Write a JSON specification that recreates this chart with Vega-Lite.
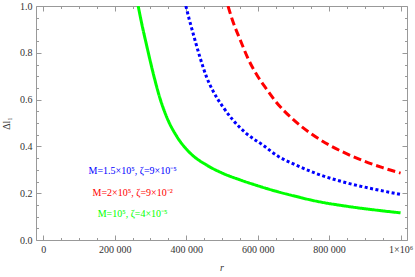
{
  "$schema": "https://vega.github.io/schema/vega-lite/v6.json",
  "autosize": {"type": "none"},
  "width": 371,
  "height": 234,
  "padding": {"left": 36, "top": 6, "right": 8, "bottom": 37},
  "background": "white",
  "config": {
    "view": {"stroke": "#999999", "strokeWidth": 1},
    "axis": {
      "domainColor": "#999999",
      "tickColor": "#999999",
      "labelFont": "Liberation Serif, serif",
      "labelFontSize": 10,
      "labelColor": "#333333",
      "titleFont": "Liberation Serif, serif",
      "titleFontSize": 10,
      "titleFontWeight": "normal",
      "titleColor": "#333333",
      "grid": false
    }
  },
  "datasets": {
    "curves": [
      {"s": "g", "r": 265600, "d": 1.0},
      {"s": "g", "r": 275500, "d": 0.925},
      {"s": "g", "r": 289500, "d": 0.83},
      {"s": "g", "r": 308000, "d": 0.71},
      {"s": "g", "r": 326700, "d": 0.605},
      {"s": "g", "r": 345500, "d": 0.525},
      {"s": "g", "r": 373500, "d": 0.443},
      {"s": "g", "r": 410700, "d": 0.372},
      {"s": "g", "r": 457400, "d": 0.32},
      {"s": "g", "r": 503900, "d": 0.284},
      {"s": "g", "r": 550700, "d": 0.257},
      {"s": "g", "r": 600000, "d": 0.232},
      {"s": "g", "r": 650000, "d": 0.209},
      {"s": "g", "r": 700000, "d": 0.189},
      {"s": "g", "r": 764000, "d": 0.166},
      {"s": "g", "r": 850000, "d": 0.144},
      {"s": "g", "r": 925000, "d": 0.129},
      {"s": "g", "r": 1000000, "d": 0.116},
      {"s": "b", "r": 399000, "d": 1.0},
      {"s": "b", "r": 409000, "d": 0.94},
      {"s": "b", "r": 419300, "d": 0.883},
      {"s": "b", "r": 438100, "d": 0.783},
      {"s": "b", "r": 456800, "d": 0.697},
      {"s": "b", "r": 475300, "d": 0.636},
      {"s": "b", "r": 503200, "d": 0.568},
      {"s": "b", "r": 531200, "d": 0.512},
      {"s": "b", "r": 568600, "d": 0.455},
      {"s": "b", "r": 615000, "d": 0.405},
      {"s": "b", "r": 657000, "d": 0.358},
      {"s": "b", "r": 700000, "d": 0.325},
      {"s": "b", "r": 764300, "d": 0.284},
      {"s": "b", "r": 857400, "d": 0.241},
      {"s": "b", "r": 930000, "d": 0.216},
      {"s": "b", "r": 1000000, "d": 0.195},
      {"s": "r", "r": 517000, "d": 1.0},
      {"s": "r", "r": 530000, "d": 0.937},
      {"s": "r", "r": 549900, "d": 0.86},
      {"s": "r", "r": 575000, "d": 0.769},
      {"s": "r", "r": 600000, "d": 0.7},
      {"s": "r", "r": 625000, "d": 0.645},
      {"s": "r", "r": 650000, "d": 0.593},
      {"s": "r", "r": 700000, "d": 0.514},
      {"s": "r", "r": 750000, "d": 0.454},
      {"s": "r", "r": 800000, "d": 0.406},
      {"s": "r", "r": 850000, "d": 0.368},
      {"s": "r", "r": 900000, "d": 0.336},
      {"s": "r", "r": 950000, "d": 0.309},
      {"s": "r", "r": 1000000, "d": 0.286}
    ],
    "labels": [
      {"s": "b", "r": 250000, "d": 0.295, "t": "M=1.5×10⁵, ζ=9×10⁻⁵"},
      {"s": "r", "r": 250000, "d": 0.201, "t": "M=2×10⁵, ζ=9×10⁻²"},
      {"s": "g", "r": 250000, "d": 0.112, "t": "M=10⁵, ζ=4×10⁻⁵"}
    ]
  },
  "resolve": {"axis": {"x": "independent", "y": "independent"}},
  "layer": [
    {
      "data": {"name": "curves"},
      "mark": {"type": "line", "strokeWidth": 3, "clip": true, "interpolate": "monotone"},
      "encoding": {
        "x": {"field": "r", "type": "quantitative",
          "scale": {"domain": [-20400, 1018000], "nice": false, "zero": false},
          "axis": {"orient": "bottom", "values": [0, 200000, 400000, 600000, 800000, 1000000],
            "tickSize": -5, "labelPadding": 9, "domain": false, "title": "r", "titleFontStyle": "italic", "titlePadding": 8,
            "labelExpr": "datum.value == 1000000 ? '1×10⁶' : replace(format(datum.value, ','), ',', ' ')"}},
        "y": {"field": "d", "type": "quantitative",
          "scale": {"domain": [0, 1], "nice": false},
          "axis": {"orient": "left", "values": [0, 0.2, 0.4, 0.6, 0.8, 1.0], "format": ".1f",
            "tickSize": -5, "labelPadding": 9, "domain": false, "title": "Δl₁", "titlePadding": 8}},
        "color": {"field": "s", "type": "nominal", "legend": null,
          "scale": {"domain": ["b", "r", "g"], "range": ["#0000ff", "#ff0000", "#00ff00"]}},
        "strokeDash": {"field": "s", "type": "nominal", "legend": null,
          "scale": {"domain": ["b", "r", "g"], "range": [[3, 2.5], [8, 4], [1, 0]]}}
      }
    },
    {
      "data": {"name": "labels"},
      "mark": {"type": "text", "font": "Liberation Serif, serif", "fontSize": 10, "align": "center", "baseline": "middle"},
      "encoding": {
        "x": {"field": "r", "type": "quantitative", "axis": null},
        "y": {"field": "d", "type": "quantitative", "axis": null},
        "text": {"field": "t"},
        "color": {"field": "s", "type": "nominal", "legend": null}
      }
    },
    {
      "data": {"name": "curves"},
      "mark": {"type": "line", "opacity": 0},
      "encoding": {
        "x": {"field": "r", "type": "quantitative",
          "axis": {"orient": "top", "values": [0, 200000, 400000, 600000, 800000, 1000000], "tickSize": -5, "labels": false, "domain": false, "title": null}},
        "y": {"field": "d", "type": "quantitative",
          "axis": {"orient": "right", "values": [0, 0.2, 0.4, 0.6, 0.8, 1.0], "tickSize": -5, "labels": false, "domain": false, "title": null}},
        "detail": {"field": "s"}
      }
    },
    {
      "data": {"name": "curves"},
      "mark": {"type": "line", "opacity": 0},
      "encoding": {
        "x": {"field": "r", "type": "quantitative",
          "axis": {"orient": "bottom", "values": [50000, 100000, 150000, 250000, 300000, 350000, 450000, 500000, 550000, 650000, 700000, 750000, 850000, 900000, 950000], "tickSize": -2.5, "labels": false, "domain": false, "title": null}},
        "y": {"field": "d", "type": "quantitative",
          "axis": {"orient": "left", "values": [0.05, 0.1, 0.15, 0.25, 0.3, 0.35, 0.45, 0.5, 0.55, 0.65, 0.7, 0.75, 0.85, 0.9, 0.95], "tickSize": -2.5, "labels": false, "domain": false, "title": null}},
        "detail": {"field": "s"}
      }
    },
    {
      "data": {"name": "curves"},
      "mark": {"type": "line", "opacity": 0},
      "encoding": {
        "x": {"field": "r", "type": "quantitative",
          "axis": {"orient": "top", "values": [50000, 100000, 150000, 250000, 300000, 350000, 450000, 500000, 550000, 650000, 700000, 750000, 850000, 900000, 950000], "tickSize": -2.5, "labels": false, "domain": false, "title": null}},
        "y": {"field": "d", "type": "quantitative",
          "axis": {"orient": "right", "values": [0.05, 0.1, 0.15, 0.25, 0.3, 0.35, 0.45, 0.5, 0.55, 0.65, 0.7, 0.75, 0.85, 0.9, 0.95], "tickSize": -2.5, "labels": false, "domain": false, "title": null}},
        "detail": {"field": "s"}
      }
    }
  ]
}
